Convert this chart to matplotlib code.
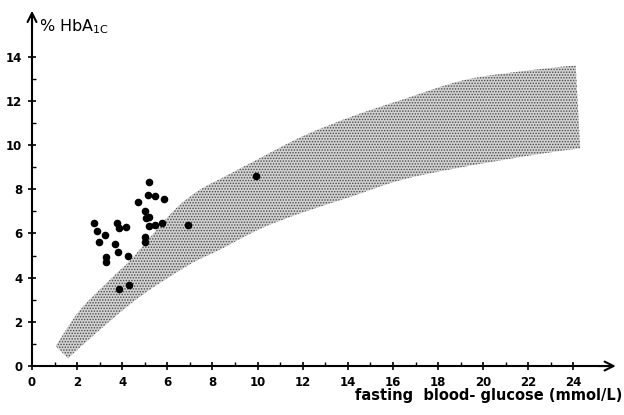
import numpy as np
import matplotlib
matplotlib.use("Agg")
import matplotlib.pyplot as plt
from matplotlib.path import Path
from matplotlib.patches import PathPatch

# measured points: fasting glucose (mmol/L) vs % HbA1c
glucose = [5.2, 5.15, 5.45, 5.85, 4.7, 5.0, 5.05, 5.2, 5.45, 5.2, 5.75, 6.9,
           2.75, 2.9, 3.75, 3.85, 4.15, 3.25, 2.95, 3.7, 5.0, 5.0, 3.8, 4.25,
           3.3, 3.3, 3.85, 4.3, 9.95]
hba1c = [8.35, 7.75, 7.7, 7.55, 7.4, 7.0, 6.7, 6.75, 6.4, 6.35, 6.45, 6.4,
         6.45, 6.1, 6.45, 6.25, 6.3, 5.95, 5.6, 5.5, 5.85, 5.6, 5.15, 5.0,
         4.95, 4.7, 3.5, 3.65, 8.6]

# reference band edges
upper_x = [1.05, 2.1, 3.45, 4.5, 6.25, 7.4, 8.5, 9.9, 12.0, 14.2, 16.4, 19.2, 22.2, 24.1]
upper_y = [0.9, 2.5, 3.9, 4.95, 7.0, 7.95, 8.55, 9.3, 10.4, 11.3, 12.05, 12.95, 13.4, 13.6]
lower_x = [1.6, 2.85, 4.8, 7.0, 8.3, 10.1, 12.0, 14.1, 16.3, 18.8, 22.2, 24.3]
lower_y = [0.35, 1.5, 3.15, 4.6, 5.25, 6.2, 6.95, 7.65, 8.4, 8.95, 9.55, 9.85]


def smooth_path(px, py):
    # catmull-rom through the given points, as cubic bezier segments
    p = np.column_stack([px, py])
    verts = [p[0]]
    codes = [Path.MOVETO]
    for i in range(len(p) - 1):
        p0 = p[i - 1] if i > 0 else p[i]
        p3 = p[i + 2] if i + 2 < len(p) else p[i + 1]
        c1 = p[i] + (p[i + 1] - p0) / 6
        c2 = p[i + 1] - (p3 - p[i]) / 6
        verts += [c1, c2, p[i + 1]]
        codes += [Path.CURVE4] * 3
    return verts, codes


fig = plt.figure(figsize=(6.24, 4.15), dpi=100)
ax = fig.add_axes([0.0513, 0.118, 0.94, 0.852])
ax.set_xlim(0, 26)
ax.set_ylim(0, 16)

uv, uc = smooth_path(upper_x, upper_y)
lv, lc = smooth_path(lower_x[::-1], lower_y[::-1])
verts = uv + lv + [uv[0]]
codes = uc + [Path.LINETO] + lc[1:] + [Path.CLOSEPOLY]
plt.rcParams['hatch.linewidth'] = 0.7
band = PathPatch(Path(verts, codes), facecolor='#d2d2d2', edgecolor='#4a4a4a',
                 hatch='......', linewidth=0, zorder=1)
ax.add_patch(band)

ax.scatter(glucose, hba1c, s=20, c='black', zorder=3)

for side in ['top', 'right']:
    ax.spines[side].set_visible(False)
ax.spines['left'].set_bounds(0, 15.6)
ax.spines['bottom'].set_bounds(0, 25.6)
ax.spines['left'].set_linewidth(1.5)
ax.spines['bottom'].set_linewidth(1.5)
ax.annotate('', xy=(26, 0), xytext=(25.0, 0),
            arrowprops=dict(arrowstyle='->', lw=1.5, color='black',
                            mutation_scale=16), annotation_clip=False)
ax.annotate('', xy=(0, 16.2), xytext=(0, 15.2),
            arrowprops=dict(arrowstyle='->', lw=1.5, color='black',
                            mutation_scale=16), annotation_clip=False)

ax.set_xticks(np.arange(0, 25, 2))
ax.set_yticks(np.arange(0, 15, 2))
ax.set_xticks(list(range(1, 25, 2)), minor=True)
ax.set_yticks(list(range(1, 15, 2)), minor=True)
ax.tick_params(which='major', direction='inout', length=6, width=1.2,
               labelsize=8.5, pad=4)
ax.tick_params(which='minor', direction='in', length=3, width=1.0)
for lab in ax.get_xticklabels() + ax.get_yticklabels():
    lab.set_fontweight('bold')

ax.text(0.3, 15.35, r'% HbA$_{\mathregular{1C}}$', fontsize=11.5, va='center')
fig.text(0.997, 0.048, 'fasting  blood- glucose (mmol/L)', fontsize=10.5,
         fontweight='bold', ha='right', va='center')

fig.savefig('out.png', dpi=100)
